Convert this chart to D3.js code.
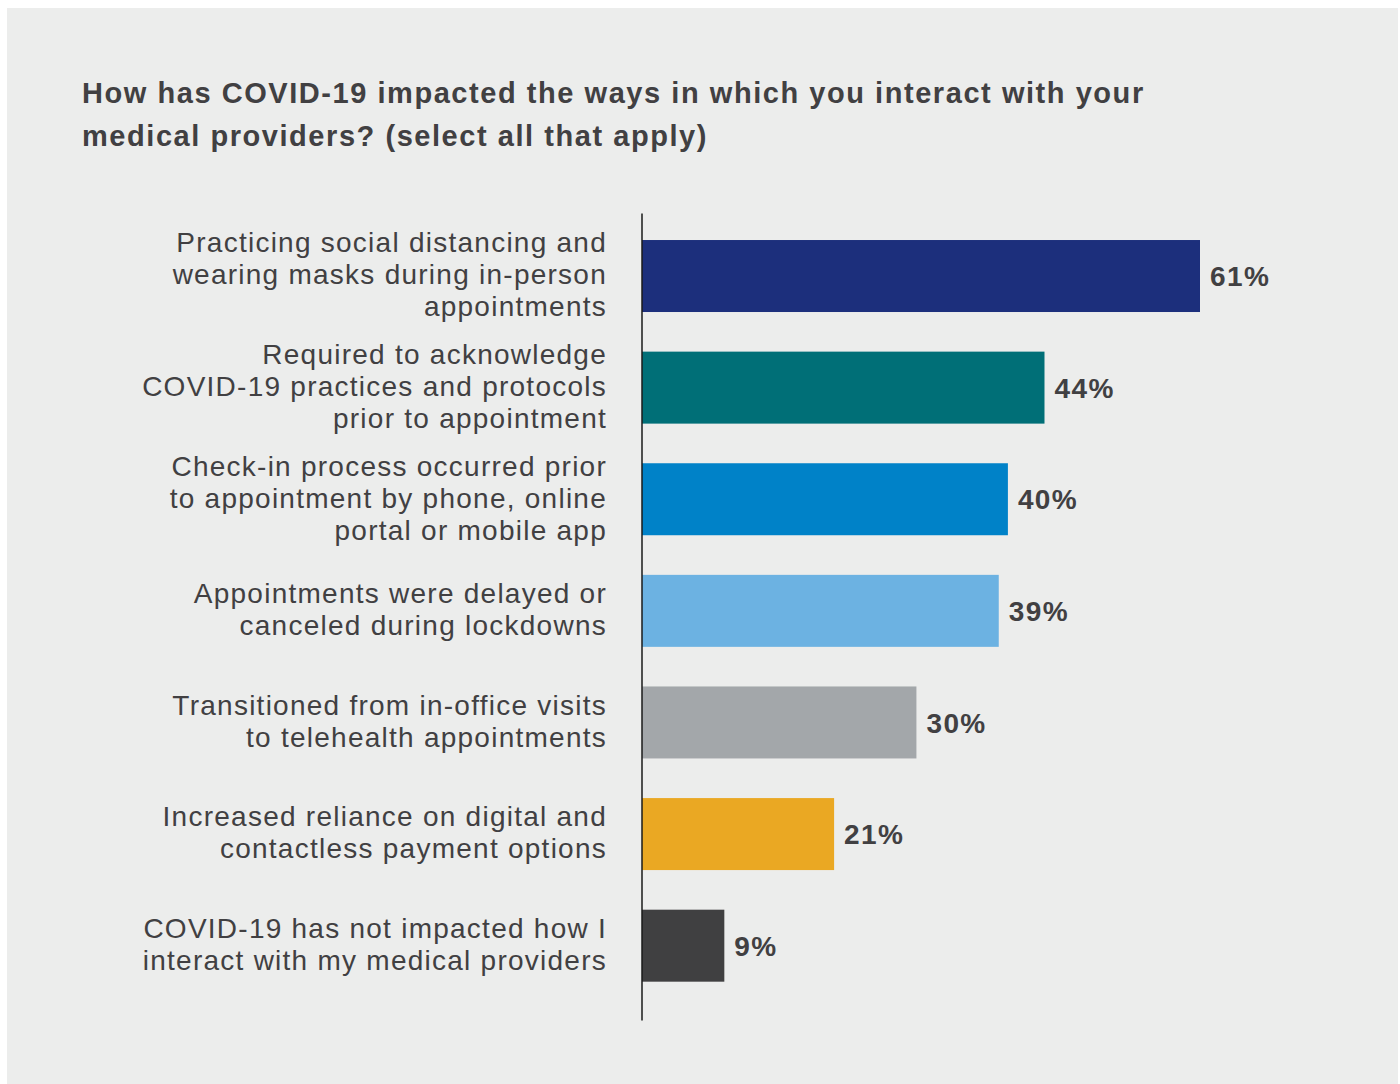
<!DOCTYPE html>
<html>
<head>
<meta charset="utf-8">
<script src="https://cdn.jsdelivr.net/npm/d3@7/dist/d3.min.js"></script>
<style>
  html, body { margin: 0; padding: 0; background: #ffffff; }
  svg { display: block; }
  text { font-family: "Liberation Sans", Arial, Helvetica, sans-serif; fill: #414042; }
</style>
</head>
<body>
<svg id="chart" width="1400" height="1084"></svg>
<script>
// Survey responses: share of respondents selecting each option
const titleLines = [
  "How has COVID-19 impacted the ways in which you interact with your",
  "medical providers? (select all that apply)"
];
const categories = [
  ["Practicing social distancing and", "wearing masks during in-person", "appointments"],
  ["Required to acknowledge", "COVID-19 practices and protocols", "prior to appointment"],
  ["Check-in process occurred prior", "to appointment by phone, online", "portal or mobile app"],
  ["Appointments were delayed or", "canceled during lockdowns"],
  ["Transitioned from in-office visits", "to telehealth appointments"],
  ["Increased reliance on digital and", "contactless payment options"],
  ["COVID-19 has not impacted how I", "interact with my medical providers"]
];
const values = [61, 44, 40, 39, 30, 21, 9];
const barColors = ["#1c2f7c", "#006f77", "#0082c8", "#6cb2e2", "#a3a7aa", "#eaa823", "#404041"];

const svg = d3.select("#chart");

// panel background
svg.append("rect")
  .attr("x", 7).attr("y", 8)
  .attr("width", 1391).attr("height", 1076)
  .attr("fill", "#ecedec");

// title
svg.append("text")
  .attr("x", 82).attr("y", 103)
  .attr("font-size", 29).attr("font-weight", "bold")
  .attr("letter-spacing", 1.55)
  .selectAll("tspan").data(titleLines).join("tspan")
  .attr("x", 82).attr("dy", (d, i) => i === 0 ? 0 : 43)
  .text(d => d);

const ids = categories.map((d, i) => i);

const x = d3.scaleLinear().domain([0, 61]).range([642, 1200]);
const y = d3.scaleBand().domain(ids).range([217.7, 1004]).paddingInner(0.355).paddingOuter(0.2);

// bars
svg.append("g").selectAll("rect").data(values).join("rect")
  .attr("x", x(0))
  .attr("y", (d, i) => y(i))
  .attr("width", d => x(d) - x(0))
  .attr("height", y.bandwidth())
  .attr("fill", (d, i) => barColors[i]);

// value labels
svg.append("g").selectAll("text").data(values).join("text")
  .attr("x", d => x(d) + 10)
  .attr("y", (d, i) => y(i) + y.bandwidth() / 2)
  .attr("dy", "0.36em")
  .attr("font-size", 28).attr("font-weight", "bold")
  .attr("letter-spacing", 1.4)
  .text(d => d + "%");

// category labels, right aligned, vertically centred on each bar
const lineH = 32;
const labels = svg.append("g").selectAll("text").data(categories).join("text")
  .attr("text-anchor", "end")
  .attr("font-size", 28)
  .attr("letter-spacing", 1.25)
  .attr("y", (d, i) => y(i) + y.bandwidth() / 2 - (d.length - 1) * lineH / 2);
labels.selectAll("tspan").data(d => d).join("tspan")
  .attr("x", 607)
  .attr("dy", (d, i) => i === 0 ? "0.3em" : lineH)
  .text(d => d);

// vertical baseline
const axis = d3.axisLeft(d3.scaleLinear().range([213, 1020])).ticks(0).tickSize(0).tickFormat("");
svg.append("g")
  .attr("transform", `translate(${x(0) - 0.5},0)`)
  .call(axis)
  .call(g => g.select(".domain").attr("stroke", "#1a1a1a").attr("stroke-width", 1.5));
</script>
</body>
</html>
